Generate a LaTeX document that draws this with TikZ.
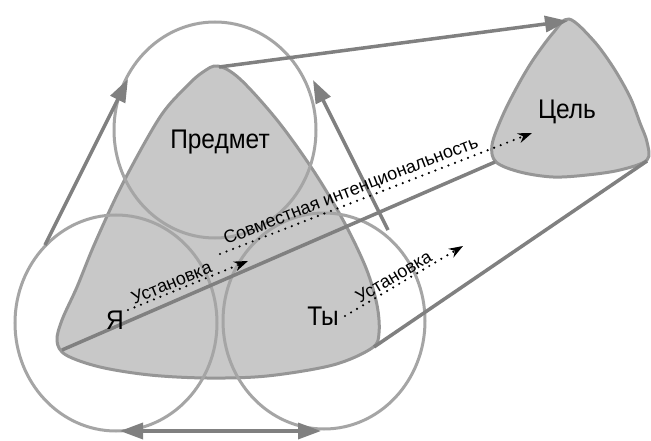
\documentclass[tikz,border=0pt]{standalone}
\usepackage{fontspec}
\setmainfont{Liberation Sans}
\usetikzlibrary{arrows.meta,shapes.geometric}
\definecolor{fillg}{RGB}{200,200,200}
\definecolor{edgeg}{RGB}{150,150,150}
\definecolor{ringg}{RGB}{165,165,165}
\definecolor{linkg}{RGB}{128,128,128}
\newcommand{\tallx}[1]{\scalebox{1}[1.1]{#1}}
\begin{document}
\begin{tikzpicture}[x=1pt,y=-1pt,
  blob/.style={fill=fillg, draw=edgeg, line width=3pt, line join=round},
  ring/.style={draw=ringg, line width=3pt, ellipse, inner sep=0pt, outer sep=0pt, minimum width=202pt, minimum height=216pt},
  gline/.style={draw=linkg, line width=3.5pt},
  garrow/.style={gline, -{Triangle[length=23pt,width=16pt]}},
  dgarrow/.style={gline, {Triangle[length=23pt,width=16pt]}-{Triangle[length=23pt,width=16pt]}},
  dotarrow/.style={black, line width=2.4pt, line cap=round, dash pattern=on 0pt off 7pt, -{Stealth[length=14pt,width=10pt]}},
  biglabel/.style={font=\fontsize{24.5}{24}\selectfont, inner sep=0pt},
  smalllabel/.style={font=\fontsize{18}{18}\selectfont, inner sep=1.5pt, text=black},
]
\useasboundingbox (0,0) rectangle (651,441);
\fill[white] (0,0) rectangle (651,441);

% shapes
\draw[blob] plot[smooth cycle, tension=0.55] coordinates {
 (218,66) (240,79) (277,120) (313,170) (343,220) (366,268) (377,305) (379,333) (372,348)
 (333,365) (267,376) (207,378) (150,375) (100,367) (66,355) (57,341) (62,320) (77,287)
 (95,243) (123,183) (160,117) (187,86) (203,72)};
\draw[blob] plot[smooth cycle, tension=0.55] coordinates {
 (569,19) (593,40) (613,67) (630,97) (640,123) (647,142) (647,160) (620,170) (587,175)
 (553,177) (520,172) (496,162) (492,145) (502,117) (517,87) (533,60) (553,33)};

% circles
\node[ring] (ctop) at (215,130) {};
\node[ring] (cleft) at (116,323) {};
\node[ring] (cright) at (324,321) {};

% coordinates
\coordinate (topv) at (219,67);
\coordinate (ya) at (62,350);
\coordinate (ty) at (374,347);
\coordinate (celtop) at (568,21);
\coordinate (cell) at (495,162);
\coordinate (celr) at (647,161);
\coordinate (la) at (45,245);
\coordinate (lb) at (128,79);
\coordinate (ra) at (388,230);
\coordinate (rb) at (313,80);
\coordinate (bl) at (120,431);
\coordinate (br) at (321,431);

% connectors
\draw[garrow] (topv) -- (celtop);
\draw[gline] (ya) -- (cell);
\draw[gline] (ty) -- (celr);
\draw[garrow] (la) -- (lb);
\draw[garrow] (ra) -- (rb);
\draw[dgarrow] (bl) -- (br);

% labels
\node[biglabel] (pred) at (220,142) {\tallx{Предмет}};
\node[biglabel] (yalab) at (115,320) {\tallx{Я}};
\node[biglabel] (tylab) at (323,316) {\tallx{Ты}};
\node[biglabel] (cellab) at (567,112) {\tallx{Цель}};

% dotted arrows
\coordinate (d1s) at (128,310);
\coordinate (d1e) at (248,261);
\coordinate (d2s) at (220,254);
\coordinate (d2e) at (532,133);
\coordinate (d3s) at (345,316);
\coordinate (d3e) at (463,246);
\draw[dotarrow] (d1s) -- node[smalllabel, sloped, above, pos=0.39] (u1) {Установка} (d1e);
\draw[dotarrow] (d2s) -- node[smalllabel, sloped, above, pos=0.433] (sov) {Совместная интенциональность} (d2e);
\draw[dotarrow] (d3s) -- node[smalllabel, sloped, above, pos=0.45] (u2) {Установка} (d3e);
\end{tikzpicture}
\end{document}
